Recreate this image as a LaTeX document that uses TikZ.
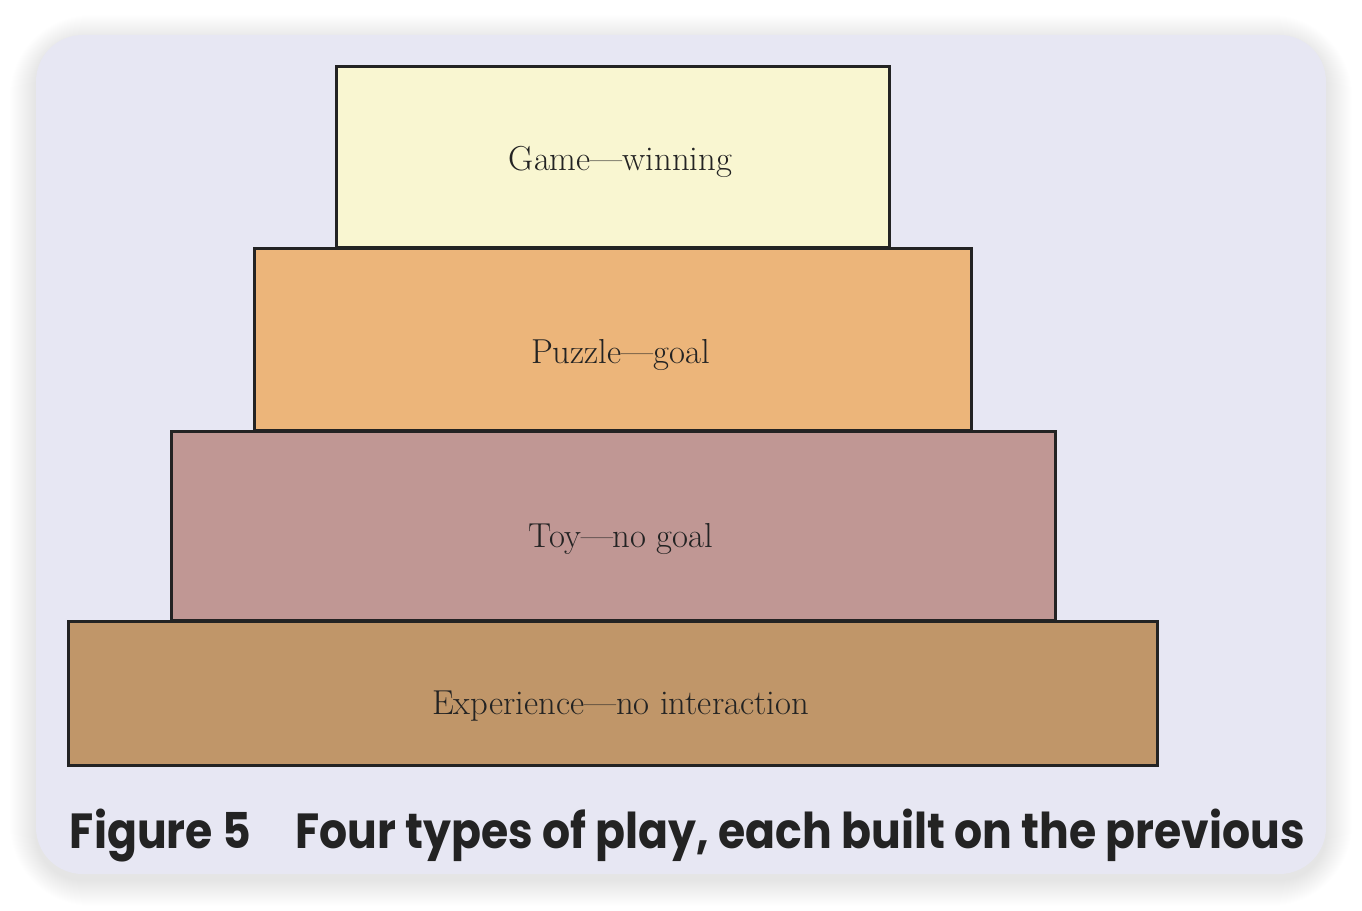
\documentclass[tikz,border=0pt]{standalone}
\usepackage{fontspec}
\usepackage{xcolor}
\usepackage{tikz}
\usetikzlibrary{positioning, calc}
\newfontfamily\capfont{Poppins}

\definecolor{cardbg}{HTML}{E7E7F3}
\definecolor{inkline}{HTML}{232323}
\definecolor{gamefill}{HTML}{F9F6D1}
\definecolor{puzzlefill}{HTML}{ECB57A}
\definecolor{toyfill}{HTML}{C09794}
\definecolor{expfill}{HTML}{C09669}

% label text sits a bit low and right of the box centre
\newcommand{\tiertext}[2]{\raisebox{-#1}[0pt][0pt]{\hspace*{12pt}#2}}

\begin{document}
\begin{tikzpicture}[x=0.75pt, y=0.75pt,
  tier/.style={rectangle, draw=inkline, line width=2.25pt, inner sep=0pt,
    font=\fontsize{26}{30}\selectfont, text=inkline}]

\useasboundingbox[fill=white] (0,0) rectangle (1362,910);

% card with soft shadow
\foreach \i in {1,...,26}
  \fill[black, opacity=0.0045, rounded corners=35+\i] (36-\i,30-\i) rectangle (1326+\i,875+\i-6);
\fill[cardbg, rounded corners=35] (36,36) rectangle (1326,875);

\node[tier, fill=expfill, minimum width=816.75pt, minimum height=107.25pt] (exp) at (612.5,216.5) {\tiertext{16.1pt}{Experience---no interaction}};
\node[tier, fill=toyfill, minimum width=663pt, minimum height=141.75pt] (toy) at (613,383.5) {\tiertext{15.4pt}{Toy---no goal}};
\node[tier, fill=puzzlefill, minimum width=537.75pt, minimum height=136.5pt] (puzzle) at (612.5,570) {\tiertext{18pt}{Puzzle---goal}};
\node[tier, fill=gamefill, minimum width=414.75pt, minimum height=135.75pt] (game) at (612.5,752.5) {\tiertext{9.4pt}{Game---winning}};

\node[anchor=base, text=inkline, inner sep=0pt, font=\capfont\bfseries\fontsize{37}{40}\selectfont] (caption) at (687.5,62)
  {\resizebox{926.25pt}{\height}{Figure 5\hspace{1em}Four types of play, each built on the previous}};

\end{tikzpicture}
\end{document}
